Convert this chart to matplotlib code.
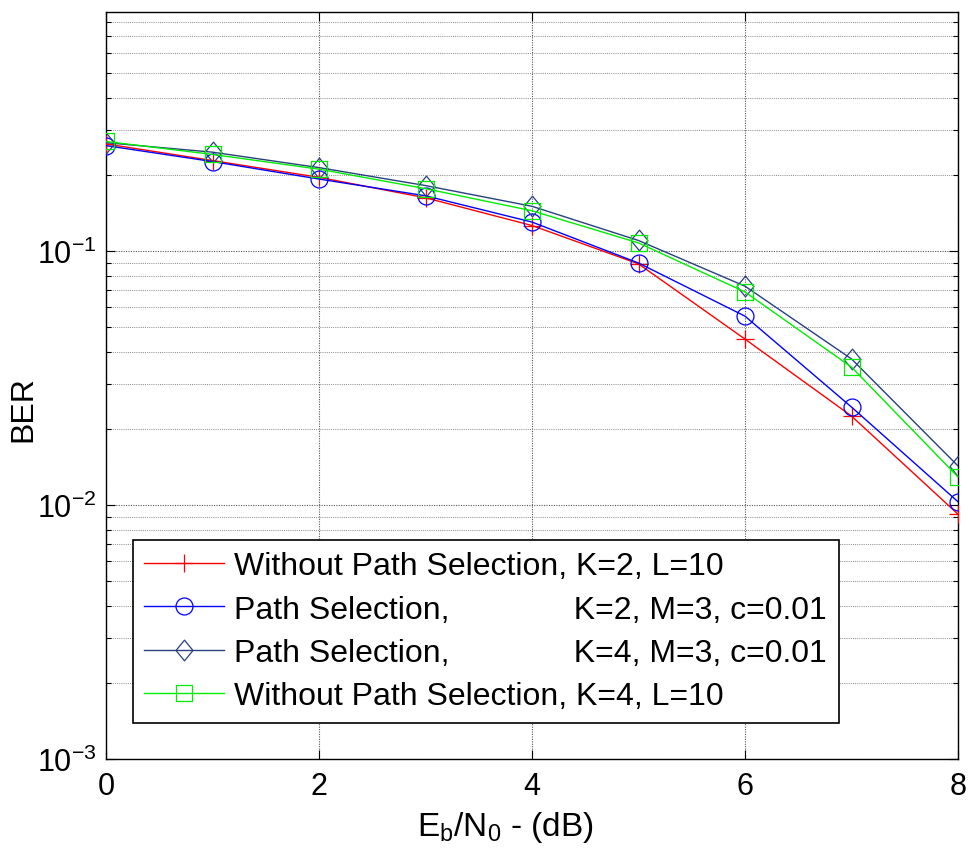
import matplotlib
matplotlib.use("Agg")
import matplotlib.pyplot as plt
import numpy as np
from matplotlib.path import Path
from matplotlib.ticker import LogLocator, NullFormatter, FixedLocator

plt.rcParams['font.family'] = ['Liberation Sans', 'DejaVu Sans']
plt.rcParams['mathtext.fontset'] = 'custom'
plt.rcParams['mathtext.rm'] = 'Liberation Sans'
plt.rcParams['mathtext.it'] = 'Liberation Sans:italic'
plt.rcParams['mathtext.default'] = 'regular'
plt.rcParams['axes.unicode_minus'] = False

# ---- data ----
ebn0 = [0, 1, 2, 3, 4, 5, 6, 7, 8]
ber_nops_k2 = [0.264, 0.227, 0.195, 0.162, 0.126, 0.089, 0.045, 0.0224, 0.0092]
ber_ps_k2 = [0.260, 0.225, 0.192, 0.165, 0.130, 0.0897, 0.0554, 0.0243, 0.0103]
ber_ps_k4 = [0.267, 0.245, 0.213, 0.181, 0.150, 0.110, 0.0727, 0.0376, 0.01425]
ber_nops_k4 = [0.270, 0.240, 0.210, 0.176, 0.144, 0.1076, 0.069, 0.0349, 0.0129]

labels = [
    'Without Path Selection, K=2, L=10',
    'Path Selection,' + ' ' * 14 + 'K=2, M=3, c=0.01',
    'Path Selection,' + ' ' * 14 + 'K=4, M=3, c=0.01',
    'Without Path Selection, K=4, L=10',
]
xticks = [0, 2, 4, 6, 8]

# ---- figure ----
fig = plt.figure(figsize=(9.69, 8.53), dpi=100)
W, H = 969, 853
L, R, T, B = 106, 958, 13, 760
ax = fig.add_axes([L / W, (H - B) / H, (R - L) / W, (B - T) / H])

diamond = Path([(0, 1), (0.82, 0), (0, -1), (-0.82, 0), (0, 1)],
               [Path.MOVETO, Path.LINETO, Path.LINETO, Path.LINETO, Path.CLOSEPOLY])
square = Path([(-1, -1), (1, -1), (1, 1), (-1, 1), (-1, -1)],
              [Path.MOVETO, Path.LINETO, Path.LINETO, Path.LINETO, Path.CLOSEPOLY])

navy = '#27407e'
lw = 1.0
mew = 0.9
ax.plot(ebn0, ber_nops_k2, color='red', lw=lw, marker='+', ms=12.6, mew=mew,
        mfc='none', label=labels[0], zorder=3)
ax.plot(ebn0, ber_ps_k2, color='blue', lw=lw, marker='o', ms=12.2, mew=mew,
        mfc='none', label=labels[1], zorder=3)
ax.plot(ebn0, ber_ps_k4, color=navy, lw=lw, marker=diamond, ms=14.9, mew=mew,
        mfc='none', label=labels[2], zorder=3)
ax.plot(ebn0, ber_nops_k4, color='#00ee00', lw=lw, marker=square, ms=12.2, mew=mew,
        mfc='none', label=labels[3], zorder=3)

ax.set_yscale('log')
ax.set_xlim(0, 8)
ax.set_ylim(1e-3, 0.873)
ax.xaxis.set_major_locator(FixedLocator(xticks))
ax.yaxis.set_major_locator(LogLocator(base=10))
ax.yaxis.set_minor_locator(LogLocator(base=10, subs=np.arange(2, 10)))
ax.yaxis.set_minor_formatter(NullFormatter())

ax.tick_params(which='both', direction='in', top=True, right=True,
               labelsize=22, colors='black')
ax.tick_params(which='major', length=6.5, width=0.8)
ax.tick_params(which='minor', length=3.6, width=0.8)
ax.tick_params(axis='x', pad=9)
ax.tick_params(axis='y', pad=7)

ax.grid(True, which='major', axis='both', color='#555555', linestyle=(0, (1, 1.2)), lw=0.8)
ax.grid(True, which='minor', axis='y', color='#8a8a8a', linestyle=(0, (1, 1.2)), lw=0.7)
ax.set_axisbelow(True)

for s in ax.spines.values():
    s.set_linewidth(1.0)
    s.set_color('black')

ax.set_ylabel('BER', fontsize=23)
ax.yaxis.set_label_coords((38 - L) / (R - L), (B - 409) / (B - T))
ax.set_xlabel(r'E$_\mathregular{b}$/N$_\mathregular{0}$ - (dB)', fontsize=24)
ax.xaxis.set_label_coords((505 - L) / (R - L), (B - 810) / (B - T))

leg = ax.legend(loc='lower left',
                bbox_to_anchor=((132.7 - L) / (R - L), (B - 724) / (B - T)),
                borderaxespad=0, fontsize=23, frameon=True, fancybox=False,
                edgecolor='black', framealpha=1, handlelength=2.5,
                handletextpad=0.32, labelspacing=0.42, borderpad=0.36)
leg.get_frame().set_linewidth(1.2)
leg.set_zorder(5)

fig.savefig('out.png', dpi=100)
